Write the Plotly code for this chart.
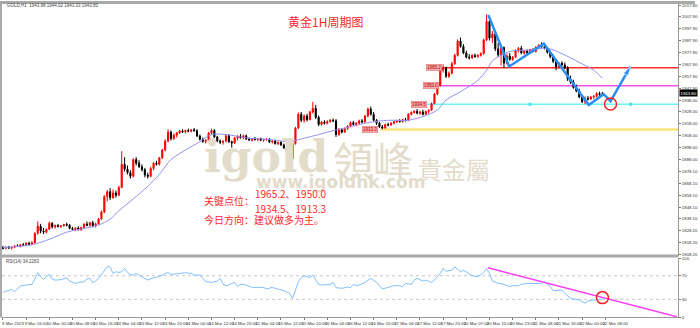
import plotly.graph_objects as go

# ---------------- data ----------------
opens = [
    1814, 1813.5, 1814.5, 1813.8, 1814.2, 1815.5, 1815, 1816.5, 1816, 1817.8,
    1816.8, 1818, 1826, 1832, 1828, 1827, 1829.5, 1834.5, 1831.5, 1832.5,
    1831.8, 1832.5, 1833.5, 1832.8, 1830.2, 1829.2, 1830.5, 1829, 1831, 1833.8,
    1832.8, 1835, 1832.5, 1834, 1838, 1844, 1857, 1861, 1856, 1860,
    1858, 1864.5, 1884, 1880, 1877, 1874, 1888, 1885, 1882, 1879.5,
    1875, 1874, 1880.5, 1885, 1884, 1889.5, 1896, 1903.5, 1911, 1905.5,
    1908.5, 1910.5, 1912, 1911.2, 1912.5, 1911.8, 1913, 1912.2, 1907.8, 1905,
    1903.2, 1904.2, 1910.2, 1912.5, 1907, 1903.5, 1902.5, 1903.5, 1908, 1903,
    1902, 1906, 1907.5, 1906.5, 1908, 1905.2, 1904.5, 1905.5, 1904.8, 1905.5,
    1904.2, 1904.8, 1905.2, 1902.8, 1903.5, 1901.5, 1902.5, 1900.2, 1897.8, 1895,
    1889, 1901.5, 1914.5, 1926, 1921, 1924.5, 1921.5, 1928, 1931, 1923.5,
    1917.5, 1919.5, 1918.5, 1920, 1921, 1920.5, 1909, 1913, 1911, 1914,
    1916, 1919, 1917.5, 1918.5, 1920.5, 1919.5, 1924.5, 1930.5, 1926, 1921,
    1918.5, 1915.5, 1914.5, 1917.5, 1917, 1918.5, 1919.8, 1920.5, 1920, 1921.5,
    1921, 1926, 1927.5, 1928.5, 1927, 1928, 1926, 1928.5, 1929.5, 1935,
    1943, 1950, 1963, 1965, 1958, 1960.5, 1968.5, 1975.5, 1987.5, 1983,
    1977.5, 1974, 1973.5, 1975.5, 1974.5, 1975.5, 1977, 1988.5, 2004, 1990,
    1993.5, 1981, 1976, 1982, 1969, 1975, 1972, 1974, 1979.5, 1981.5,
    1977.5, 1979, 1977.5, 1980.5, 1978.8, 1982.5, 1984, 1982.8, 1981.5, 1978,
    1974.5, 1970.5, 1966, 1969, 1967.5, 1965, 1955.5, 1953, 1948.5, 1945.5,
    1940.5, 1936.5, 1939.5, 1938.8, 1940.5, 1941.2, 1943.5, 1943.98,
]
highs = [
    1815.5, 1815, 1815.5, 1815, 1816, 1816.8, 1817, 1818, 1818.5, 1819,
    1819.5, 1827, 1836, 1834, 1830.5, 1830, 1836, 1835.5, 1833.5, 1834,
    1833, 1834, 1835, 1834, 1831.5, 1831, 1832, 1831.5, 1834.5, 1836,
    1835.5, 1836.5, 1835, 1839, 1845, 1858, 1862.5, 1864, 1863, 1862,
    1866, 1895, 1890, 1883, 1879, 1889, 1890, 1887.5, 1884, 1881,
    1877, 1882, 1886, 1887, 1890, 1897, 1905, 1913.5, 1912.5, 1910,
    1911, 1913, 1913.5, 1913, 1914, 1913.5, 1914.5, 1913.5, 1909, 1906.5,
    1905, 1911, 1914, 1913.5, 1908, 1905, 1904, 1909, 1909.5, 1904,
    1907, 1908.5, 1909.5, 1909, 1909, 1906.5, 1906, 1907, 1906, 1906.5,
    1905.5, 1906, 1906, 1904, 1904.5, 1903, 1903.5, 1901.5, 1899, 1896,
    1903, 1915.5, 1927.5, 1928, 1926, 1926.5, 1929, 1936.5, 1934, 1925,
    1920.5, 1921, 1921, 1922, 1922.5, 1922, 1914.5, 1914, 1915, 1917,
    1920, 1920.5, 1919.5, 1921.5, 1922, 1925.5, 1931.5, 1932.5, 1928, 1922,
    1919.5, 1917, 1918, 1919, 1919.5, 1920.5, 1921.5, 1922, 1922, 1923,
    1927, 1928.5, 1929.5, 1930.5, 1929, 1930, 1929, 1930, 1936, 1944,
    1951, 1964, 1968, 1966, 1962, 1970, 1977, 1989, 1990.5, 1985,
    1979.5, 1976.5, 1976.5, 1977, 1976.5, 1978, 1989.5, 2010, 2006, 1996,
    1995, 1986, 1983, 1983, 1977, 1977.5, 1975, 1980.5, 1982.5, 1983.5,
    1980, 1980.5, 1981, 1981.5, 1983, 1985, 1986.5, 1984, 1982.5, 1979.5,
    1976, 1972, 1970, 1970.5, 1969.5, 1966.5, 1958.5, 1955, 1951, 1947.5,
    1942, 1941, 1941.5, 1941.5, 1942, 1944.5, 1945, 1944.02,
]
lows = [
    1812.5, 1812.8, 1813, 1812.5, 1813.5, 1814.5, 1814.2, 1815.5, 1815.5, 1816,
    1816, 1817.5, 1825, 1826, 1825.5, 1826, 1829, 1830, 1830, 1831,
    1830.5, 1831.5, 1832, 1829.5, 1828.5, 1827.8, 1828.5, 1828.2, 1830.5, 1832,
    1831.5, 1831, 1831, 1833.5, 1837.5, 1843, 1853, 1854, 1855, 1856,
    1857.5, 1864, 1878, 1875.5, 1872, 1873, 1883, 1881, 1878, 1873,
    1872, 1873, 1879, 1883, 1883, 1888.5, 1895, 1902.5, 1904, 1904.5,
    1906.5, 1909.5, 1910.5, 1910, 1911, 1910.8, 1911.5, 1907, 1904, 1902,
    1901.5, 1903.5, 1908.5, 1906, 1902.5, 1901, 1900.5, 1902.5, 1902, 1898,
    1901, 1904, 1905.5, 1905, 1904.5, 1903.5, 1903, 1904, 1903.5, 1903.5,
    1902.8, 1903.8, 1902, 1901.5, 1900.5, 1900, 1899.5, 1897, 1894, 1887,
    1888, 1900.5, 1913.5, 1919.5, 1919, 1920, 1921, 1926.5, 1922, 1916,
    1916.5, 1917.5, 1917.5, 1919, 1919.5, 1907, 1908, 1910, 1910.5, 1913,
    1915, 1916.5, 1916, 1917.5, 1918.5, 1919, 1923.5, 1925, 1920, 1917,
    1914.5, 1913.5, 1914, 1916, 1916.5, 1917.5, 1918.5, 1919, 1919, 1920,
    1920.5, 1925, 1926.5, 1926, 1925.5, 1925, 1925.5, 1926.5, 1929, 1934.5,
    1942, 1949.5, 1961, 1956.5, 1956.5, 1959.5, 1967.5, 1974.5, 1982, 1976.5,
    1973, 1972, 1972.5, 1973.5, 1973.5, 1974.5, 1976, 1987.5, 1988, 1986,
    1979, 1974, 1967, 1965, 1968, 1971, 1971, 1973.5, 1978, 1976.5,
    1976, 1976.5, 1977, 1978, 1978, 1981, 1982, 1980.5, 1977, 1973,
    1969, 1963, 1964.5, 1966, 1964, 1954, 1951.5, 1947.5, 1944.5, 1939.5,
    1935.5, 1934.5, 1937.5, 1938, 1939, 1940, 1941.5, 1943.33,
]
closes = [
    1813.5, 1814.5, 1813.8, 1814.2, 1815.5, 1815, 1816.5, 1816, 1817.8, 1816.8,
    1818, 1826, 1832, 1828, 1827, 1829.5, 1834.5, 1831.5, 1832.5, 1831.8,
    1832.5, 1833.5, 1832.8, 1830.2, 1829.2, 1830.5, 1829, 1831, 1833.8, 1832.8,
    1835, 1832.5, 1834, 1838, 1844, 1857, 1861, 1856, 1860, 1858,
    1864.5, 1884, 1880, 1877, 1874, 1888, 1885, 1882, 1879.5, 1875,
    1874, 1880.5, 1885, 1884, 1889.5, 1896, 1903.5, 1911, 1905.5, 1908.5,
    1910.5, 1912, 1911.2, 1912.5, 1911.8, 1913, 1912.2, 1907.8, 1905, 1903.2,
    1904.2, 1910.2, 1912.5, 1907, 1903.5, 1902.5, 1903.5, 1908, 1903, 1902,
    1906, 1907.5, 1906.5, 1908, 1905.2, 1904.5, 1905.5, 1904.8, 1905.5, 1904.2,
    1904.8, 1905.2, 1902.8, 1903.5, 1901.5, 1902.5, 1900.2, 1897.8, 1895, 1889,
    1901.5, 1914.5, 1926, 1921, 1924.5, 1921.5, 1928, 1931, 1923.5, 1917.5,
    1919.5, 1918.5, 1920, 1921, 1920.5, 1909, 1913, 1911, 1914, 1916,
    1919, 1917.5, 1918.5, 1920.5, 1919.5, 1924.5, 1930.5, 1926, 1921, 1918.5,
    1915.5, 1914.5, 1917.5, 1917, 1918.5, 1919.8, 1920.5, 1920, 1921.5, 1921,
    1926, 1927.5, 1928.5, 1927, 1928, 1926, 1928.5, 1929.5, 1935, 1943,
    1950, 1963, 1965, 1958, 1960.5, 1968.5, 1975.5, 1987.5, 1983, 1977.5,
    1974, 1973.5, 1975.5, 1974.5, 1975.5, 1977, 1988.5, 2004, 1990, 1993.5,
    1981, 1976, 1982, 1969, 1975, 1972, 1974, 1979.5, 1981.5, 1977.5,
    1979, 1977.5, 1980.5, 1978.8, 1982.5, 1984, 1982.8, 1981.5, 1978, 1974.5,
    1970.5, 1966, 1969, 1967.5, 1965, 1955.5, 1953, 1948.5, 1945.5, 1940.5,
    1936.5, 1939.5, 1938.8, 1940.5, 1941.2, 1943.5, 1942.5, 1943.80,
]

# moving average, read at sample bars
ma_bar = [0, 10, 16, 22, 27, 33, 37, 40, 45, 50, 54, 58, 63, 68, 72, 77, 85, 93, 99, 102,
          109, 113, 119, 126, 133, 140, 146, 150, 153, 158, 164, 167, 169, 174, 177, 182,
          188, 193, 199, 204, 207]
ma_val = [1814, 1816.5, 1821, 1827, 1829.7, 1833, 1838, 1845, 1855, 1865.5, 1875.6, 1888,
          1896, 1903, 1909, 1909, 1906, 1904.7, 1903, 1904.7, 1909, 1911.7, 1915, 1919,
          1921, 1921, 1925, 1929.6, 1938, 1945, 1954.6, 1963, 1971, 1977.9, 1979.6, 1980,
          1981.5, 1977, 1969.6, 1963, 1956.3]

# RSI(14)
rsi_bar = [0, 1, 3, 4, 5, 6, 8, 10, 11, 12, 13, 14, 15, 16, 17, 18, 20, 21, 22, 23,
           25, 26, 28, 29, 30, 31, 32, 33, 34, 36, 37, 38, 39, 40, 41, 42, 43, 44, 45, 46,
           47, 48, 50, 52, 53, 55, 56, 57, 58, 60, 61, 63, 65, 66, 68, 69, 70, 72, 74, 75,
           76, 77, 78, 79, 80, 81, 82, 83, 84, 86, 87, 89, 90, 91, 93, 94, 95, 97, 99, 100,
           101, 102, 103, 104, 105, 106, 107, 108, 109, 110, 112, 113, 114, 115, 117, 119, 120, 121, 122, 123,
           125, 127, 129, 130, 131, 133, 135, 137, 138, 139, 141, 142, 143, 145, 146, 148, 149, 151, 152, 153,
           155, 156, 158, 159, 161, 162, 164, 166, 167, 168, 169, 171, 173, 175, 176, 178, 179, 181, 183, 184,
           186, 187, 189, 190, 192, 193, 194, 196, 197, 199, 201, 202, 204, 205, 207]
rsi_val = [41.9, 44, 46.9, 43, 47.5, 52.5, 54.2, 55.4, 64.3, 75.1, 68.4, 63.8, 68.4, 72.2, 64.3, 62.6, 63.3, 65.5, 66.7, 60.9,
           57, 58.7, 59.9, 64.3, 65.5, 58.2, 60.9, 65.5, 72.2, 85.2, 85.2, 73.9, 76.8, 75.6, 76.8, 82.4, 75.6, 72.2, 71.1, 73.9,
           71.1, 68.4, 62.6, 66.7, 67.2, 71.1, 72.7, 75.6, 72.2, 73.9, 73.9, 75.1, 73.9, 71.1, 71.1, 65.5, 59.9, 58.7, 60.9, 65.5,
           55.4, 53.2, 54.2, 57, 58.7, 51.5, 55.4, 55.4, 54.2, 50.3, 50.3, 50.8, 50.3, 47.5, 50.3, 48.6, 47.5, 44.7, 40.2, 31.7,
           45.7, 59.9, 66.7, 70, 68.4, 67.2, 71.1, 64.3, 55.4, 54.2, 55.4, 55.4, 58.7, 49.8, 48.6, 50.8, 49.8, 55.4, 53.2, 54.2,
           58.7, 65.5, 58.7, 53.2, 47.5, 50.3, 53.2, 53.2, 51.5, 57, 55.4, 62.6, 65.5, 60.9, 62.6, 58.7, 62.6, 73.9, 82.4, 77.8,
           79.5, 85.2, 76.8, 79.5, 73.9, 70, 68.4, 75.6, 82.4, 73.9, 60.9, 57, 55.4, 51.5, 53.2, 53.2, 55.4, 57, 57, 57,
           56.5, 59.9, 51.5, 44.7, 45.7, 45.7, 40.2, 31.7, 30.5, 28.9, 23.3, 27.2, 28.9, 28.9, 30.5]

# drawn analysis objects
level_prices = [1965.2, 1950.0, 1934.5, 1913.3]
level_labels = ["1965.2", "1950.0", "1934.5", "1913.3"]
level_start_bar = [151.5, 150.5, 146.4, 130.3]
level_label_bar = [148.8, 147.8, 143.6, 126.8]
level_colors = ["#ff2b2b", "#f050f0", "#6ff3f3", "#ffe27a"]
level_widths = [1.5, 1.5, 1.5, 2.5]

zig_bar = [167.6, 174.8, 186.8, 202.3, 207.4, 209.8, 216.7]
zig_price = [2009.5, 1966.2, 1985.4, 1933.8, 1942.9, 1937.1, 1966.2]
circle_main = (209.8, 1934.6)
circle_rsi = (207.0, 32.9)
rsi_trend_bar = [167.5, 232.7]
rsi_trend_val = [83.5, 0.5]
cyan_marks_bar = [182, 216.7]

price_ticks = [2017.80, 2007.90, 1997.90, 1987.90, 1977.90, 1967.90, 1957.90, 1947.90,
               1938.00, 1928.00, 1918.00, 1908.00, 1898.00, 1888.00, 1878.10, 1868.10,
               1858.10, 1848.10, 1838.10, 1828.20, 1818.20, 1808.20]
time_labels = ["9 Mar 2023", "9 Mar 16:00", "10 Mar 00:00", "10 Mar 08:00", "10 Mar 16:00",
               "13 Mar 04:00", "13 Mar 12:00", "13 Mar 20:00", "14 Mar 04:00", "14 Mar 12:00",
               "14 Mar 20:00", "15 Mar 04:00", "15 Mar 12:00", "15 Mar 20:00", "16 Mar 04:00",
               "16 Mar 12:00", "16 Mar 20:00", "17 Mar 04:00", "17 Mar 12:00", "17 Mar 20:00",
               "20 Mar 07:00", "20 Mar 15:00", "20 Mar 23:00", "21 Mar 08:00", "21 Mar 16:00",
               "22 Mar 00:00", "22 Mar 08:00"]
time_label_bars = [8 * k for k in range(len(time_labels))]
rsi_ticks = [0, 30, 70, 100]

# ---------------- layout geometry ----------------
W, H = 700, 328
L, R, T, B = 2, 17, 3, 9
PW, PH = W - L - R, H - T - B


def px(x):
    return (x - L) / PW


def py(y):
    return (H - B - y) / PH


X_RANGE = [-0.34, 233.1]
Y_RANGE = [1807.35, 2018.66]
MAIN_DOMAIN = [py(257), 1]
RSI_DOMAIN = [0, py(259.5)]

bars = list(range(len(closes)))

fig = go.Figure()
fig.add_trace(go.Candlestick(
    x=bars, open=opens, high=highs, low=lows, close=closes,
    increasing=dict(line=dict(color="#ff0000", width=1), fillcolor="#ff0000"),
    decreasing=dict(line=dict(color="#000000", width=1), fillcolor="#000000"),
    whiskerwidth=0, showlegend=False, hoverinfo="skip", xaxis="x", yaxis="y"))
fig.add_trace(go.Scatter(
    x=ma_bar, y=ma_val, mode="lines", showlegend=False, hoverinfo="skip",
    line=dict(color="#9090f0", width=1, shape="spline", smoothing=0.8), xaxis="x", yaxis="y"))
fig.add_trace(go.Scatter(
    x=cyan_marks_bar, y=[level_prices[2]] * len(cyan_marks_bar), mode="markers",
    marker=dict(symbol="square", size=3, color="#40e8e8"), showlegend=False,
    hoverinfo="skip", xaxis="x", yaxis="y"))
fig.add_trace(go.Scatter(
    x=zig_bar, y=zig_price, mode="lines+markers", showlegend=False, hoverinfo="skip",
    line=dict(color="#2a8ef2", width=2.5),
    marker=dict(size=[0] * (len(zig_bar) - 1) + [10], symbol="arrow", angleref="previous",
                color="#2a8ef2"),
    xaxis="x", yaxis="y"))
fig.add_trace(go.Scatter(
    x=[circle_main[0]], y=[circle_main[1]], mode="markers", showlegend=False, hoverinfo="skip",
    marker=dict(symbol="circle-open", size=12, color="#ff2020", line=dict(width=1.5)),
    xaxis="x", yaxis="y"))

# RSI panel
fig.add_trace(go.Scatter(
    x=rsi_bar, y=rsi_val, mode="lines", showlegend=False, hoverinfo="skip",
    line=dict(color="#80c0ff", width=1), xaxis="x2", yaxis="y2"))
fig.add_trace(go.Scatter(
    x=rsi_trend_bar, y=rsi_trend_val, mode="lines", showlegend=False, hoverinfo="skip",
    line=dict(color="#ff3cff", width=1.5), xaxis="x2", yaxis="y2"))
fig.add_trace(go.Scatter(
    x=[circle_rsi[0]], y=[circle_rsi[1]], mode="markers", showlegend=False, hoverinfo="skip",
    marker=dict(symbol="circle-open", size=12, color="#ff2020", line=dict(width=1.5)),
    xaxis="x2", yaxis="y2"))

shapes = []
# frame pieces
shapes.append(dict(type="rect", xref="paper", yref="paper", x0=px(0), x1=px(W), y0=py(3), y1=py(0),
                   fillcolor="#a9a9a9", line=dict(width=0), layer="above"))
shapes.append(dict(type="rect", xref="paper", yref="paper", x0=px(0), x1=px(2), y0=py(319.5), y1=py(0),
                   fillcolor="#a9a9a9", line=dict(width=0), layer="above"))
shapes.append(dict(type="rect", xref="paper", yref="paper", x0=px(0), x1=px(683.5), y0=py(259), y1=py(256),
                   fillcolor="#a9a9a9", line=dict(width=0), layer="above"))
# horizontal key levels
for p, s, c, w in zip(level_prices, level_start_bar, level_colors, level_widths):
    shapes.append(dict(type="line", xref="x", yref="y", x0=s, x1=X_RANGE[1], y0=p, y1=p,
                       line=dict(color=c, width=w), layer="below"))
# RSI dotted levels
for v in (30, 70):
    shapes.append(dict(type="line", xref="paper", yref="y2", x0=0, x1=1, y0=v, y1=v,
                       line=dict(color="#c8c8c8", width=1, dash="dot"), layer="below"))

annotations = []
annotations.append(dict(text="GOLD,H1  1943.98 1944.02 1943.33 1943.80", xref="paper", yref="paper",
                        x=px(5), y=py(4.8), xanchor="left", yanchor="middle", showarrow=False,
                        font=dict(size=4.5, color="#444444")))
annotations.append(dict(text="RSI(14) 34.2283", xref="paper", yref="paper",
                        x=px(4), y=py(262.5), xanchor="left", yanchor="middle", showarrow=False,
                        font=dict(size=4.5, color="#444444")))
# watermark
wm = "#e3dccb"
annotations.append(dict(text="<b>igold</b>", xref="paper", yref="paper", x=px(203), y=py(157),
                        xanchor="left", yanchor="middle", showarrow=False,
                        font=dict(family="DejaVu Serif", size=44, color=wm)))
annotations.append(dict(text="領峰", xref="paper", yref="paper", x=px(333), y=py(159),
                        xanchor="left", yanchor="middle", showarrow=False,
                        font=dict(family="Noto Sans CJK TC", size=40, color=wm)))
annotations.append(dict(text="貴金屬", xref="paper", yref="paper", x=px(419), y=py(169),
                        xanchor="left", yanchor="middle", showarrow=False,
                        font=dict(family="Noto Sans CJK TC", size=24, color=wm)))
annotations.append(dict(text="<b>www.igoldhk.com</b>", xref="paper", yref="paper", x=px(256), y=py(183),
                        xanchor="left", yanchor="middle", showarrow=False,
                        font=dict(family="DejaVu Sans", size=17, color=wm)))
# title & commentary
red = "#ff2a2a"
cjk = "Noto Sans CJK SC"
annotations.append(dict(text="黄金1H周期图", xref="paper", yref="paper", x=px(328), y=py(21),
                        xanchor="center", yanchor="middle", showarrow=False,
                        font=dict(family=cjk, size=12, color=red)))
annotations.append(dict(text="关键点位：", xref="paper", yref="paper", x=px(203), y=py(201),
                        xanchor="left", yanchor="middle", showarrow=False,
                        font=dict(family=cjk, size=10, color=red)))
annotations.append(dict(text="1965.2、1950.0", xref="paper", yref="paper", x=px(255), y=py(194.5),
                        xanchor="left", yanchor="middle", showarrow=False,
                        font=dict(family=cjk, size=10, color=red)))
annotations.append(dict(text="1934.5、1913.3", xref="paper", yref="paper", x=px(255), y=py(209.5),
                        xanchor="left", yanchor="middle", showarrow=False,
                        font=dict(family=cjk, size=10, color=red)))
annotations.append(dict(text="今日方向：建议做多为主。", xref="paper", yref="paper", x=px(203), y=py(221),
                        xanchor="left", yanchor="middle", showarrow=False,
                        font=dict(family=cjk, size=10, color=red)))
# level labels
for lab, b, p in zip(level_labels, level_label_bar, level_prices):
    annotations.append(dict(text=lab, xref="x", yref="y", x=b, y=p, xanchor="center", yanchor="middle",
                            showarrow=False, bgcolor="#f6a8a8", bordercolor="#e07070", borderwidth=0.5,
                            borderpad=0.5, font=dict(size=4.5, color="#b00000")))
# current price box
annotations.append(dict(text="1943.80", xref="paper", yref="y", x=1.0, y=closes[-1], xanchor="left",
                        yanchor="middle", xshift=1, showarrow=False, bgcolor="#000000", borderpad=0.5,
                        font=dict(size=4.3, color="#ffffff")))

axis_font = dict(family="Liberation Sans", size=4.3, color="#333333")
fig.update_layout(
    width=W, height=H, margin=dict(l=L, r=R, t=T, b=B),
    paper_bgcolor="white", plot_bgcolor="white", showlegend=False,
    font=dict(family="Liberation Sans"), hovermode=False, boxgap=0.45,
    xaxis=dict(domain=[0, 1], range=X_RANGE, anchor="y", showticklabels=False, ticks="",
               showgrid=False, zeroline=False, showline=False, rangeslider=dict(visible=False)),
    xaxis2=dict(domain=[0, 1], range=X_RANGE, anchor="y2", matches="x", tickvals=time_label_bars,
                ticktext=time_labels, tickfont=dict(family="Liberation Sans", size=4.3, color="#333333"),
                ticks="outside", ticklen=2, tickcolor="#777777", tickangle=0, ticklabelshift=10,
                ticklabelstandoff=0,
                showgrid=False, zeroline=False, showline=True, linecolor="#999999", linewidth=1),
    yaxis=dict(domain=MAIN_DOMAIN, range=Y_RANGE, anchor="x", side="right", tickvals=price_ticks,
               ticktext=["%.2f" % v for v in price_ticks], tickfont=axis_font, ticks="outside",
               ticklen=2, tickcolor="#777777", showgrid=False, zeroline=False, showline=True,
               linecolor="#999999", linewidth=1),
    yaxis2=dict(domain=RSI_DOMAIN, range=[0, 100], anchor="x2", side="right", tickvals=rsi_ticks,
                ticktext=[str(v) for v in rsi_ticks], tickfont=axis_font, ticks="outside", ticklen=2,
                tickcolor="#777777", showgrid=False, zeroline=False, showline=True,
                linecolor="#999999", linewidth=1),
    shapes=shapes, annotations=annotations,
)

fig.write_html("out.html")
